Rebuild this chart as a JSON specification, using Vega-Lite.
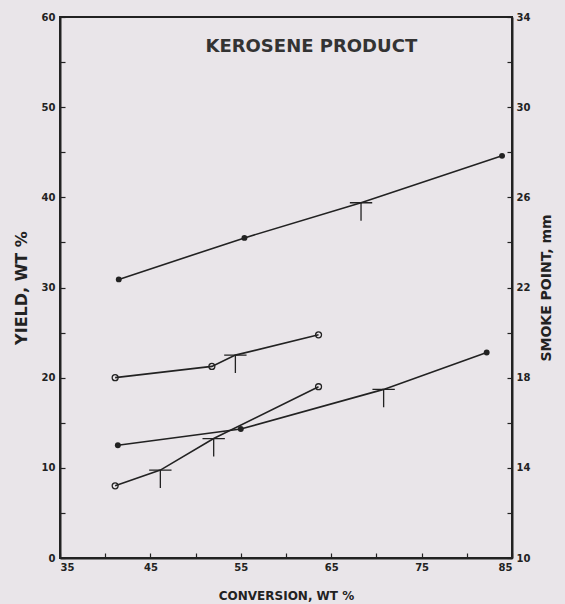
{
  "$schema": "https://vega.github.io/schema/vega-lite/v6.json",
  "autosize": {"type": "none"},
  "padding": {"left": 60, "top": 17, "right": 53, "bottom": 46},
  "width": 452,
  "height": 541,
  "background": "#e9e5e9",
  "config": {
    "view": {"stroke": "#222", "strokeWidth": 2},
    "font": "DejaVu Sans",
    "axis": {
      "domainColor": "#222", "domainWidth": 2, "tickColor": "#222", "tickWidth": 1.2,
      "labelColor": "#222", "titleColor": "#222", "labelFont": "DejaVu Sans", "titleFont": "DejaVu Sans",
      "labelFontWeight": "bold", "titleFontWeight": "bold", "grid": false, "labelFontSize": 10
    }
  },
  "datasets": {
    "yield": [
      {"series": "A", "conversion": 41.5, "value": 30.9, "marker": "filled"},
      {"series": "A", "conversion": 55.4, "value": 35.5, "marker": "filled"},
      {"series": "A", "conversion": 68.3, "value": 39.4, "marker": "flag"},
      {"series": "A", "conversion": 83.9, "value": 44.6, "marker": "filled"},
      {"series": "C", "conversion": 41.4, "value": 12.5, "marker": "filled"},
      {"series": "C", "conversion": 55.0, "value": 14.3, "marker": "filled"},
      {"series": "C", "conversion": 70.8, "value": 18.7, "marker": "flag"},
      {"series": "C", "conversion": 82.2, "value": 22.8, "marker": "filled"}
    ],
    "smoke": [
      {"series": "B", "conversion": 41.1, "value": 18.0, "marker": "open"},
      {"series": "B", "conversion": 51.8, "value": 18.5, "marker": "open"},
      {"series": "B", "conversion": 54.4, "value": 19.0, "marker": "flag"},
      {"series": "B", "conversion": 63.6, "value": 19.9, "marker": "open"},
      {"series": "D", "conversion": 41.1, "value": 13.2, "marker": "open"},
      {"series": "D", "conversion": 46.1, "value": 13.9, "marker": "flag"},
      {"series": "D", "conversion": 52.0, "value": 15.3, "marker": "flag"},
      {"series": "D", "conversion": 63.6, "value": 17.6, "marker": "open"}
    ]
  },
  "layer": [
    {
      "data": {"name": "yield"},
      "encoding": {
        "x": {"field": "conversion", "type": "quantitative",
          "scale": {"domain": [35, 85], "nice": false, "zero": false},
          "axis": {"title": "CONVERSION, WT %", "titleFontSize": 12, "titlePadding": 18,
            "values": [35, 40, 45, 50, 55, 60, 65, 70, 75, 80, 85],
            "labelExpr": "(datum.value - 35) % 10 == 0 ? datum.label : ''",
            "tickSize": -5, "labelPadding": 9}},
        "y": {"field": "value", "type": "quantitative",
          "scale": {"domain": [0, 60], "nice": false},
          "axis": {"title": "YIELD, WT %", "titleFontSize": 16, "titlePadding": 12, "orient": "left",
            "values": [0, 5, 10, 15, 20, 25, 30, 35, 40, 45, 50, 55, 60],
            "labelExpr": "datum.value % 10 == 0 ? datum.label : ''",
            "tickSize": -5, "labelPadding": 10}}
      },
      "layer": [
        {"mark": {"type": "line", "color": "#222", "strokeWidth": 1.6}, "encoding": {"detail": {"field": "series"}}},
        {"transform": [{"filter": "datum.marker == 'filled'"}],
          "mark": {"type": "point", "shape": "circle", "filled": true, "color": "#222", "size": 35, "opacity": 1}},
        {"transform": [{"filter": "datum.marker == 'flag'"}],
          "mark": {"type": "point", "shape": "M -1 0 L 1 0 M 0 0 L 0 1.6", "filled": false, "color": "#222", "size": 500, "strokeWidth": 1.3, "opacity": 1}},
        {"data": {"values": [{"conversion": 62.8, "value": 56.7, "label": "KEROSENE PRODUCT"}]},
          "mark": {"type": "text", "font": "DejaVu Sans", "fontWeight": "bold", "fontSize": 18, "color": "#333"},
          "encoding": {"text": {"field": "label"}}}
      ]
    },
    {
      "data": {"name": "smoke"},
      "encoding": {
        "x": {"field": "conversion", "type": "quantitative"},
        "y": {"field": "value", "type": "quantitative",
          "scale": {"domain": [10, 34], "nice": false, "zero": false},
          "axis": {"title": "SMOKE POINT, mm", "titleFontSize": 14, "titlePadding": 24, "orient": "right", "titleAngle": 270,
            "values": [10, 12, 14, 16, 18, 20, 22, 24, 26, 28, 30, 32, 34],
            "labelExpr": "(datum.value - 10) % 4 == 0 ? datum.label : ''",
            "tickSize": -5, "labelPadding": 9}}
      },
      "layer": [
        {"mark": {"type": "line", "color": "#222", "strokeWidth": 1.6}, "encoding": {"detail": {"field": "series"}}},
        {"transform": [{"filter": "datum.marker == 'open'"}],
          "mark": {"type": "point", "shape": "circle", "filled": false, "color": "#222", "size": 35, "strokeWidth": 1.3, "opacity": 1}},
        {"transform": [{"filter": "datum.marker == 'flag'"}],
          "mark": {"type": "point", "shape": "M -1 0 L 1 0 M 0 0 L 0 1.6", "filled": false, "color": "#222", "size": 500, "strokeWidth": 1.3, "opacity": 1}}
      ]
    }
  ],
  "resolve": {"scale": {"y": "independent"}}
}
